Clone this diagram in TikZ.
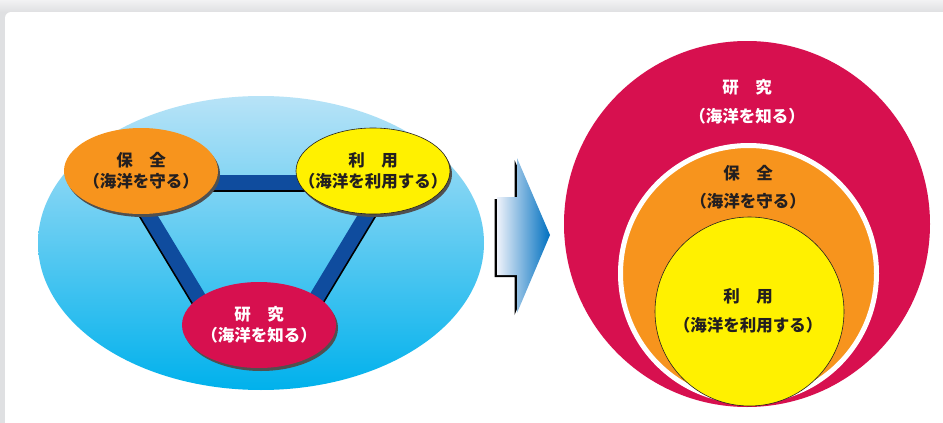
\documentclass[tikz,border=0pt]{standalone}
\usepackage{fontspec}
\newfontfamily\jp{Noto Sans CJK JP}
\usetikzlibrary{shapes.geometric,shadows}
\definecolor{bggray}{HTML}{DFE0E2}
\definecolor{bgtop}{HTML}{F2F2F3}
\definecolor{skytop}{HTML}{B8E3F7}
\definecolor{skymid}{HTML}{3DC2F0}
\definecolor{skybot}{HTML}{00B1EC}
\definecolor{barblue}{HTML}{0F4C9E}
\definecolor{orng}{HTML}{F7941D}
\definecolor{ylw}{HTML}{FFF100}
\definecolor{crim}{HTML}{D7104F}
\definecolor{ink}{HTML}{231F20}
\definecolor{shgray}{HTML}{505050}
\definecolor{arrowblue}{HTML}{0070C0}
\definecolor{arrowlight}{HTML}{EEF2FA}
\begin{document}
\begin{tikzpicture}[x=1pt,y=-1pt,
  txt/.style={font=\jp\bfseries\fontsize{16.5pt}{21pt}\selectfont, align=center, text=ink, inner sep=0pt},
  txtwide/.style={txt, font=\jp\bfseries\fontsize{16.5pt}{28.5pt}\selectfont},
  oval/.style={ellipse, minimum width=154pt, minimum height=86pt, txt, inner xsep=-40pt, inner ysep=-20pt,
    general shadow={fill=shgray, shadow xshift=2pt, shadow yshift=-3pt}},
  bar/.style={line width=15pt, draw=barblue},
  barshadow/.style={line width=15pt, draw=black}]
\useasboundingbox (0,0) rectangle (943,423);
% page background
\fill[bggray] (0,0) rectangle (943,423);
\shade[top color=bgtop, bottom color=bggray] (0,0) rectangle (943,12);
\fill[white, rounded corners=6pt] (5,12) rectangle (960,440);
% sea ellipse
\node[ellipse, minimum width=446pt, minimum height=294pt, inner sep=0pt,
  top color=skytop, middle color=skymid, bottom color=skybot] (sea) at (261,243) {};
% bars
\coordinate (t1) at (200,182);
\coordinate (t2) at (310,182);
\coordinate (l1) at (122,171);
\coordinate (l2) at (215,325);
\coordinate (r1) at (393,171);
\coordinate (r2) at (300,325);
\draw[barshadow, transform canvas={shift={(0pt,-2pt)}}] (t1) -- (t2);
\draw[barshadow, transform canvas={shift={(-2pt,0pt)}}] (l1) -- (l2);
\draw[barshadow, transform canvas={shift={(2pt,0pt)}}] (r1) -- (r2);
\draw[bar] (t1) -- (t2);
\draw[bar] (l1) -- (l2);
\draw[bar] (r1) -- (r2);
% ovals
\node[oval, fill=orng] (hozen) at (141,171) {保　全\\（海洋を守る）};
\node[oval, fill=ylw, draw=ink, line width=0.6pt] (riyo) at (373,171) {利　用\\（海洋を利用する）};
\node[oval, fill=crim, text=white] (kenkyu) at (259,325) {研　究\\（海洋を知る）};
% arrow
\fill[black, transform canvas={shift={(-2.5pt,-2pt)}}] (497,197) -- (517,197) -- (517,158) -- (550,235) -- (517,313) -- (517,275) -- (497,275) -- cycle;
\shade[left color=arrowlight, right color=arrowblue] (497,197) -- (517,197) -- (517,158) -- (550,235) -- (517,313) -- (517,275) -- (497,275) -- cycle;
% nested circles
\node[circle, fill=crim, minimum size=366pt, inner sep=0pt] (outer) at (747,224) {};
\node[circle, fill=orng, draw=white, line width=5pt, minimum size=256pt, inner sep=0pt] (middle) at (748.5,273.5) {};
\node[circle, fill=ylw, draw=ink, line width=0.6pt, minimum size=189pt, inner sep=0pt] (inner) at (749.5,311.5) {};
\node[txtwide, text=white] (kt) at (747,102) {研　究\\（海洋を知る）};
\node[txtwide] (ht) at (748,187.5) {保　全\\（海洋を守る）};
\node[txtwide] (rt) at (748,311) {利　用\\（海洋を利用する）};
\end{tikzpicture}
\end{document}
